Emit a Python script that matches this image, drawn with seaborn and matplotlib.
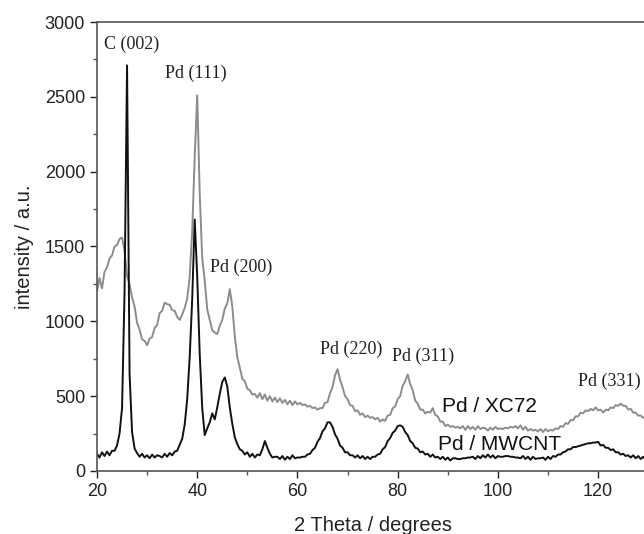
import numpy as np
import pandas as pd
import matplotlib
matplotlib.use("Agg")
import matplotlib.pyplot as plt
from matplotlib.ticker import MultipleLocator
import seaborn as sns

# 2 theta grid (degrees), one sample every 0.5 deg
two_theta = np.arange(20.0, 130.25, 0.5)

# Pd / XC72 intensities (a.u.)
xc72 = [
    1200, 1290, 1220, 1330, 1360, 1420, 1440, 1500, 1510, 1550,
    1560, 1470, 1300, 1250, 1160, 1100, 990, 945, 880, 870,
    840, 885, 895, 955, 975, 1055, 1070, 1125, 1115, 1110,
    1075, 1070, 1030, 1010, 1045, 1090, 1150, 1300, 1600, 2100,
    2510, 1850, 1420, 1270, 1080, 1010, 940, 925, 915, 970,
    1010, 1085, 1120, 1215, 1100, 900, 760, 690, 615, 600,
    550, 540, 510, 515, 490, 520, 480, 510, 470, 500,
    465, 490, 460, 485, 455, 475, 445, 470, 440, 465,
    445, 455, 440, 445, 430, 435, 420, 425, 410, 420,
    420, 455, 460, 520, 560, 640, 680, 610, 560, 500,
    480, 440, 435, 400, 405, 375, 385, 360, 370, 355,
    360, 345, 355, 330, 345, 335, 370, 375, 420, 430,
    480, 500, 570, 600, 645, 580, 540, 470, 450, 410,
    410, 385, 395, 390, 420, 375, 365, 330, 330, 300,
    310, 295, 300, 290, 295, 285, 300, 275, 300, 280,
    295, 275, 300, 280, 290, 285, 270, 290, 275, 295,
    280, 285, 280, 290, 285, 295, 290, 300, 285, 305,
    275, 295, 270, 280, 270, 275, 265, 280, 260, 280,
    265, 275, 270, 285, 280, 300, 295, 320, 315, 340,
    340, 365, 365, 390, 385, 405, 400, 415, 405, 425,
    405, 410, 390, 410, 405, 425, 420, 440, 435, 450,
    435, 435, 410, 415, 390, 390, 370, 370, 355, 360,
    345,
]

# Pd / MWCNT intensities (a.u.)
mwcnt = [
    115, 90, 125, 100, 130, 105, 135, 135, 170, 250,
    420, 1200, 2710, 650, 260, 150, 120, 95, 115, 90,
    105, 85, 110, 90, 105, 100, 90, 115, 95, 120,
    105, 130, 135, 175, 215, 310, 480, 760, 1150, 1680,
    1300, 780, 420, 240, 285, 325, 385, 345, 425, 515,
    595, 625, 565, 425, 315, 225, 180, 145, 135, 110,
    125, 95, 115, 90, 110, 105, 145, 200, 155, 115,
    90, 95, 95, 80, 100, 75, 95, 80, 105, 85,
    90, 90, 95, 95, 110, 115, 140, 155, 195, 220,
    265, 285, 325, 325, 295, 245, 215, 170, 155, 125,
    125, 105, 105, 90, 105, 85, 100, 80, 95, 80,
    95, 95, 110, 115, 145, 160, 200, 220, 255, 270,
    300, 305, 295, 260, 240, 200, 185, 155, 150, 125,
    130, 110, 115, 95, 110, 90, 95, 80, 95, 75,
    90, 70, 85, 85, 80, 80, 85, 85, 90, 90,
    95, 80, 100, 85, 105, 90, 110, 90, 105, 85,
    100, 95, 95, 100, 100, 95, 95, 90, 90, 85,
    100, 80, 95, 75, 95, 80, 85, 85, 90, 75,
    95, 80, 100, 95, 110, 110, 125, 130, 145, 145,
    160, 160, 165, 170, 175, 180, 185, 185, 190, 190,
    195, 170, 175, 155, 155, 140, 145, 125, 125, 110,
    115, 100, 105, 90, 105, 85, 100, 80, 95, 75,
    85,
]

# reflection labels and where they sit (2theta, intensity)
peak_labels = ["C (002)", "Pd (111)", "Pd (200)", "Pd (220)", "Pd (311)", "Pd (331)"]
peak_label_x = [21.4, 33.6, 42.6, 64.6, 78.8, 116.0]
peak_label_y = [2850, 2660, 1360, 810, 765, 600]

series_names = ["Pd / XC72", "Pd / MWCNT"]
series_label_x = [88.8, 88.0]
series_label_y = [430, 180]

df = pd.DataFrame({
    "two_theta": np.concatenate([two_theta, two_theta]),
    "intensity": np.concatenate([xc72, mwcnt]),
    "sample": [series_names[0]] * len(two_theta) + [series_names[1]] * len(two_theta),
})

sns.set_theme(style="ticks")
plt.rcParams["font.family"] = ["Liberation Sans", "DejaVu Sans"]

fig = plt.figure(figsize=(6.44, 5.34), dpi=100)
ax = fig.add_axes([0.1506, 0.118, 0.856, 0.8408])

sns.lineplot(data=df, x="two_theta", y="intensity", hue="sample",
             palette={"Pd / XC72": "#8c8c8c", "Pd / MWCNT": "#111111"},
             lw=1.4, legend=False, ax=ax, sort=False, estimator=None)

ax.set_xlim(20, 130)
ax.set_ylim(0, 3000)
ax.xaxis.set_major_locator(MultipleLocator(20))
ax.xaxis.set_minor_locator(MultipleLocator(10))
ax.yaxis.set_major_locator(MultipleLocator(500))
ax.yaxis.set_minor_locator(MultipleLocator(250))
ax.tick_params(which="major", direction="out", length=5, width=1, labelsize=13, colors="#222222")
ax.tick_params(which="minor", direction="out", length=3, width=1, colors="#555555")
ax.tick_params(top=False, right=False, which="both")

for side in ["left", "bottom", "top"]:
    ax.spines[side].set_color("#555555")
    ax.spines[side].set_linewidth(1.2)
ax.spines["right"].set_visible(False)

ax.set_xlabel("2 Theta / degrees", fontsize=14.5, color="#222222", labelpad=12)
ax.set_ylabel("intensity / a.u.", fontsize=14.5, color="#222222", labelpad=8)

for txt, tx, ty in zip(peak_labels, peak_label_x, peak_label_y):
    ax.text(tx, ty, txt, fontsize=13, family=["Liberation Serif", "DejaVu Serif"],
            ha="left", va="center", color="#222222")

for txt, tx, ty in zip(series_names, series_label_x, series_label_y):
    ax.text(tx, ty, txt, fontsize=15, ha="left", va="center", color="#111111")

fig.savefig("out.png", dpi=100)
